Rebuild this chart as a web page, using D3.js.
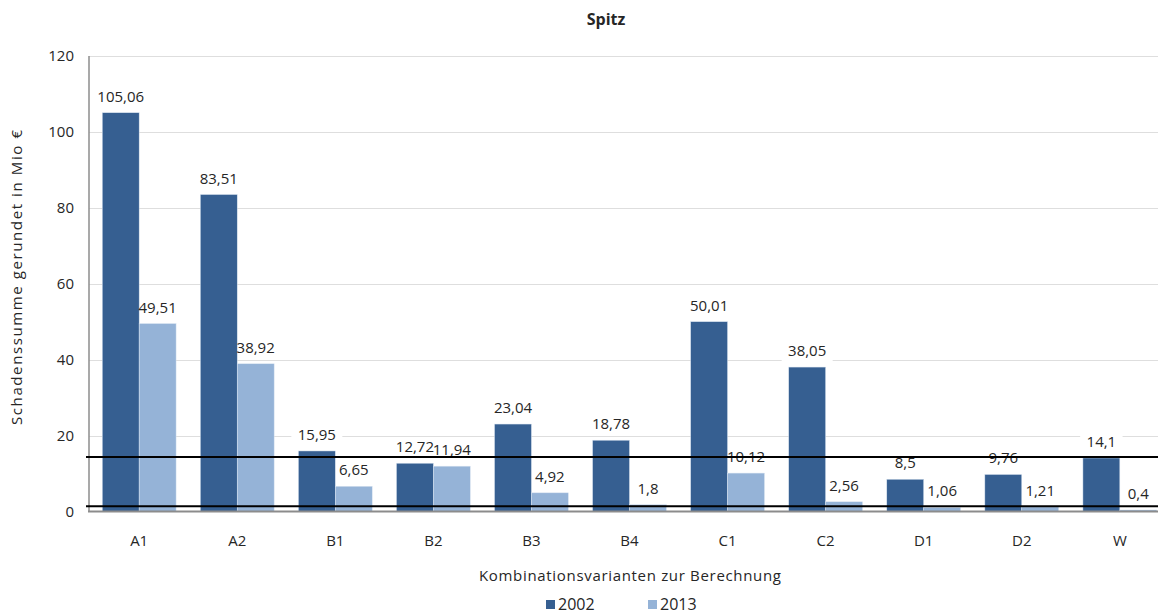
<!DOCTYPE html>
<html>
<head>
<meta charset="utf-8">
<script src="https://cdn.jsdelivr.net/npm/d3@7"></script>
<style>
  html, body { margin: 0; padding: 0; background: #fff; }
  svg { display: block; }
  text { font-family: "Open Sans", "DejaVu Sans", sans-serif; fill: #262626; }
</style>
</head>
<body>
<svg id="chart" width="1158" height="614"></svg>
<script>
// Schadenssumme per calculation variant, 2002 vs 2013 (Mio €)
const categories = ["A1", "A2", "B1", "B2", "B3", "B4", "C1", "C2", "D1", "D2", "W"];
const values2002 = [105.06, 83.51, 15.95, 12.72, 23.04, 18.78, 50.01, 38.05, 8.5, 9.76, 14.1];
const values2013 = [49.51, 38.92, 6.65, 11.94, 4.92, 1.8, 10.12, 2.56, 1.06, 1.21, 0.4];
const seriesNames = ["2002", "2013"];
const yTicks = [0, 20, 40, 60, 80, 100, 120];
// horizontal reference lines (Mio €)
const referenceLines = [14.35, 1.4];

const colors = { "2002": "#365f91", "2013": "#95b3d7" };

const svg = d3.select("#chart");
const W = 1158;
const plotLeft = 89, plotRight = 1170, plotTop = 56, plotBottom = 511.5;

const x = d3.scaleBand()
  .domain(categories)
  .range([plotLeft, plotRight])
  .paddingInner(0.247)
  .paddingOuter(0.135);

const xInner = d3.scaleBand()
  .domain(seriesNames)
  .range([0, x.bandwidth()]);

const y = d3.scaleLinear()
  .domain([0, 120])
  .range([plotBottom, plotTop]);

const fmt = v => String(v).replace(".", ",");
const FS = 15;

// gridlines
svg.append("g")
  .selectAll("line")
  .data(yTicks.filter(d => d > 0))
  .join("line")
  .attr("x1", plotLeft)
  .attr("x2", W)
  .attr("y1", d => Math.round(y(d)) + 0.5)
  .attr("y2", d => Math.round(y(d)) + 0.5)
  .attr("stroke", "#dedede")
  .attr("stroke-width", 1.2);

// y tick labels
svg.append("g")
  .selectAll("text")
  .data(yTicks)
  .join("text")
  .attr("x", 74)
  .attr("y", d => y(d))
  .attr("dy", "0.36em")
  .attr("text-anchor", "end")
  .attr("font-size", FS)
  .text(d => d);

const rows = categories.map((c, i) => ({ cat: c, vals: [
  { key: "2002", v: values2002[i] },
  { key: "2013", v: values2013[i] }
]}));

const groups = svg.append("g")
  .selectAll("g")
  .data(rows)
  .join("g")
  .attr("transform", d => `translate(${x(d.cat)},0)`);

const labelX = d => xInner(d.key) + xInner.bandwidth() / 2;
const labelY = d => y(d.v) - 11;

// white backing behind value labels (sits under the bars)
groups.selectAll("rect.bg")
  .data(d => d.vals)
  .join("rect")
  .attr("class", "bg")
  .attr("fill", "#fff")
  .attr("x", d => labelX(d) - (fmt(d.v).length * 8.6 + 8) / 2)
  .attr("width", d => fmt(d.v).length * 8.6 + 8)
  .attr("y", d => labelY(d) - 14)
  .attr("height", 19);

// bars
groups.selectAll("rect.bar")
  .data(d => d.vals)
  .join("rect")
  .attr("class", "bar")
  .attr("x", d => xInner(d.key))
  .attr("width", xInner.bandwidth())
  .attr("y", d => y(d.v))
  .attr("height", d => y(0) - y(d.v))
  .attr("fill", d => colors[d.key])
  .attr("stroke", "#dce6f2")
  .attr("stroke-width", 0.5);

// value labels
groups.selectAll("text.val")
  .data(d => d.vals)
  .join("text")
  .attr("class", "val")
  .attr("x", labelX)
  .attr("y", labelY)
  .attr("text-anchor", "middle")
  .attr("font-size", FS)
  .text(d => fmt(d.v));

// axis lines
svg.append("line")
  .attr("x1", plotLeft).attr("x2", plotLeft)
  .attr("y1", plotTop).attr("y2", y(0))
  .attr("stroke", "#8c8c8c").attr("stroke-width", 1.5);
svg.append("line")
  .attr("x1", plotLeft - 1).attr("x2", W)
  .attr("y1", y(0)).attr("y2", y(0))
  .attr("stroke", "#8c8c8c").attr("stroke-width", 2);

// reference lines
svg.append("g")
  .selectAll("line")
  .data(referenceLines)
  .join("line")
  .attr("x1", plotLeft - 3)
  .attr("x2", W)
  .attr("y1", d => y(d))
  .attr("y2", d => y(d))
  .attr("stroke", "#000")
  .attr("stroke-width", 2);

// x category labels
svg.append("g")
  .selectAll("text")
  .data(categories)
  .join("text")
  .attr("x", d => x(d) + x.bandwidth() / 2)
  .attr("y", 546)
  .attr("text-anchor", "middle")
  .attr("font-size", FS)
  .text(d => d);

// titles
svg.append("text")
  .attr("x", 606).attr("y", 25)
  .attr("text-anchor", "middle")
  .attr("font-size", 16)
  .attr("font-weight", "bold")
  .text("Spitz");

svg.append("text")
  .attr("x", 479).attr("y", 581)
  .attr("font-size", FS)
  .attr("textLength", 302)
  .attr("lengthAdjust", "spacing")
  .text("Kombinationsvarianten zur Berechnung");

svg.append("text")
  .attr("transform", "translate(22,425) rotate(-90)")
  .attr("font-size", FS)
  .attr("textLength", 295)
  .attr("lengthAdjust", "spacing")
  .text("Schadenssumme gerundet in Mio €");

// legend
const legend = svg.append("g")
  .selectAll("g")
  .data(seriesNames)
  .join("g")
  .attr("transform", (d, i) => `translate(${546 + i * 102},600)`);
legend.append("rect")
  .attr("width", 9).attr("height", 9)
  .attr("fill", d => colors[d]);
legend.append("text")
  .attr("x", 12).attr("y", 10)
  .attr("font-size", 16)
  .text(d => d);
</script>
</body>
</html>
